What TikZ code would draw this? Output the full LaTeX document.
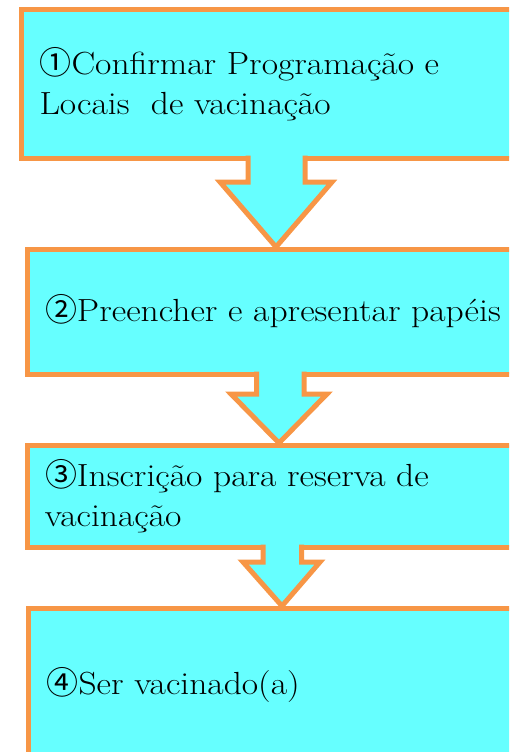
\documentclass[tikz,border=0pt]{standalone}
\usepackage{fontspec}
\newfontfamily\stepfont{Latin Modern Roman}[FakeStretch = 1.11]
\newfontfamily\cjk{Noto Sans CJK JP}
\usetikzlibrary{calc}

\definecolor{stepcyan}{RGB}{102,255,255}
\definecolor{steporange}{RGB}{247,150,70}

\begin{document}
\begin{tikzpicture}[x = 1pt, y = -1pt,
	stepbox/.style = {draw = steporange, fill = stepcyan, line width = 5pt, outer sep = 0pt,
		anchor = north west, minimum width = 600pt, inner xsep = 18pt, text width = 564pt,
		align = left, font = \stepfont\fontsize{32}{40}\selectfont},
	downarrow/.style = {draw = steporange, fill = stepcyan, line width = 5pt, line join = miter}]

	\clip (0, 0) rectangle (509, 752);

	% Steps
	
	\node [stepbox, minimum height = 148pt] (s1) at (21.5, 10) {{\cjk ①}Confirmar Programação e\\Locais\ \ de vacinação};
	\node [stepbox, minimum height = 125pt] (s2) at (27, 249) {{\cjk ②}Preencher e apresentar papéis};
	\node [stepbox, minimum height = 102pt] (s3) at (27, 445) {{\cjk ③}Inscrição para reserva de\\vacinação};
	\node [stepbox, minimum height = 153pt] (s4) at (28.5, 608) {{\cjk ④}Ser vacinado(a)};
	
	% Arrows between steps
	
	\filldraw [downarrow] ($(s1.south west) + (226.5, -2.5)$) -- ($(s1.south west) + (226.5, 24)$)
		-- ($(s1.south west) + (198.5, 24)$) -- ($(s2.north west) + (249, -2)$)
		-- ($(s1.south west) + (310.5, 24)$) -- ($(s1.south west) + (283.5, 24)$)
		-- ($(s1.south west) + (283.5, -2.5)$);
	\filldraw [downarrow] ($(s2.south west) + (229.5, -2.5)$) -- ($(s2.south west) + (229.5, 20)$)
		-- ($(s2.south west) + (204, 20)$) -- ($(s3.north west) + (252, -2)$)
		-- ($(s2.south west) + (300, 20)$) -- ($(s2.south west) + (277, 20)$)
		-- ($(s2.south west) + (277, -2.5)$);
	\filldraw [downarrow] ($(s3.south west) + (236, -2.5)$) -- ($(s3.south west) + (236, 15)$)
		-- ($(s3.south west) + (216, 15)$) -- ($(s4.north west) + (253.5, -2)$)
		-- ($(s3.south west) + (293, 15)$) -- ($(s3.south west) + (274.5, 15)$)
		-- ($(s3.south west) + (274.5, -2.5)$);
	
\end{tikzpicture}
\end{document}
